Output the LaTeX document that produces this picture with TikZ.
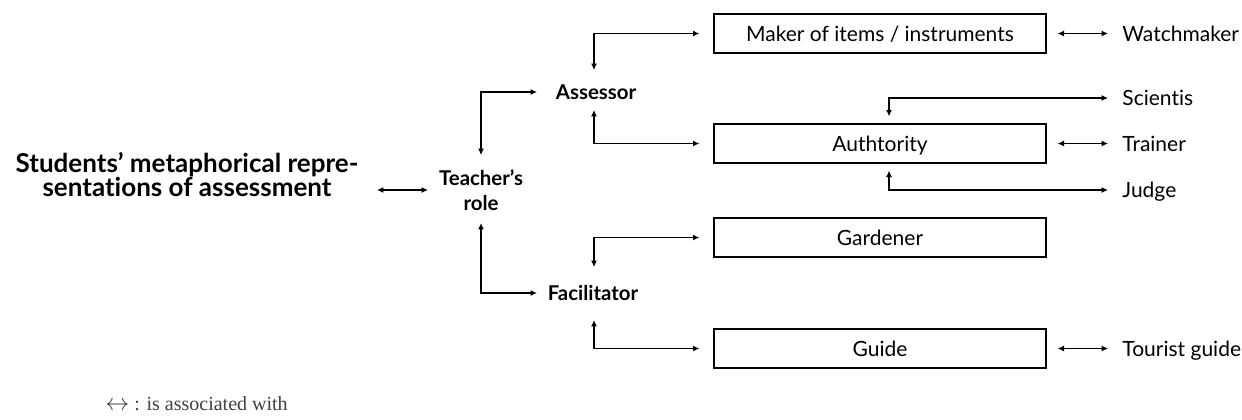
\documentclass[tikz,border=0pt]{standalone}
\usepackage{fontspec}
\setmainfont{Lato}[Ligatures={NoCommon}]
\newfontfamily\legendfont{Liberation Serif}
\usetikzlibrary{arrows.meta}
\begin{document}
\begin{tikzpicture}[x=0.5pt,y=-0.5pt,
  >={Latex[length=3.2pt,width=3pt]},
  arr/.style={line width=0.6pt,<->},
  box/.style={draw, line width=0.6pt, minimum width=166pt, minimum height=19.5pt, inner sep=0pt,
    text height=7.5pt, text depth=0pt, font=\fontsize{10.5}{12}\selectfont},
  lab/.style={inner sep=0pt, text height=7.5pt, text depth=0pt, anchor=west, font=\fontsize{10.5}{12}\selectfont},
  role/.style={inner sep=0pt, font=\bfseries\fontsize{10.2}{12.5}\selectfont, align=center},
  ttl/.style={inner sep=0pt, font=\bfseries\fontsize{13}{12}\selectfont, align=center},
]
\useasboundingbox (0,0) rectangle (1242,419);

\node[ttl] (title) at (187,175) {Students’ metaphorical repre-\\sentations of assessment};
\node[role] (teacher) at (481,190) {Teacher’s\\role};
\node[role] (assessor) at (596,92) {Assessor};
\node[role] (facil) at (593,293) {Facilitator};

\node[box] (maker) at (880,33.5) {Maker of items / instruments};
\node[box] (auth) at (880,143.5) {Authtority};
\node[box] (gard) at (880,237.5) {Gardener};
\node[box] (guide) at (880,348.5) {Guide};

\node[lab] (watch) at (1122,33.5) {Watchmaker};
\node[lab] (scient) at (1122,98) {Scientis};
\node[lab] (trainer) at (1122,143.5) {Trainer};
\node[lab] (judge) at (1122,190) {Judge};
\node[lab] (tourist) at (1122,348.5) {Tourist guide};

\node[anchor=west, inner sep=0pt, text=black!75, font=\legendfont\fontsize{10}{11}\selectfont] (legend) at (105,404) {{\fontsize{13}{13}\selectfont$\leftrightarrow$} : is associated with};

\draw[arr] ([xshift=-52pt]teacher.center) -- ([xshift=-26.5pt]teacher.center);
\draw[arr] ([yshift=17.5pt]teacher.center) |- ([xshift=-29.5pt]assessor.center);
\draw[arr] ([yshift=-16.5pt]teacher.center) |- ([xshift=-28pt]facil.center);
\draw[arr] ([xshift=-1pt,yshift=11pt]assessor.center) |- ([xshift=-7pt]maker.west);
\draw[arr] ([xshift=-1pt,yshift=-9pt]assessor.center) |- ([xshift=-7pt]auth.west);
\draw[arr] ([xshift=0.5pt,yshift=13pt]facil.center) |- ([xshift=-7pt]gard.west);
\draw[arr] ([xshift=0.5pt,yshift=-13.5pt]facil.center) |- ([xshift=-7pt]guide.west);
\draw[arr] ([xshift=4.5pt,yshift=3.5pt]auth.north) |- ([xshift=-7pt]scient.west);
\draw[arr] ([xshift=4.5pt,yshift=-3.5pt]auth.south) |- ([xshift=-7pt]judge.west);
\draw[arr] ([xshift=5.5pt]maker.east) -- ([xshift=-7pt]watch.west);
\draw[arr] ([xshift=5.5pt]auth.east) -- ([xshift=-7pt]trainer.west);
\draw[arr] ([xshift=5.5pt]guide.east) -- ([xshift=-7pt]tourist.west);
\end{tikzpicture}
\end{document}
